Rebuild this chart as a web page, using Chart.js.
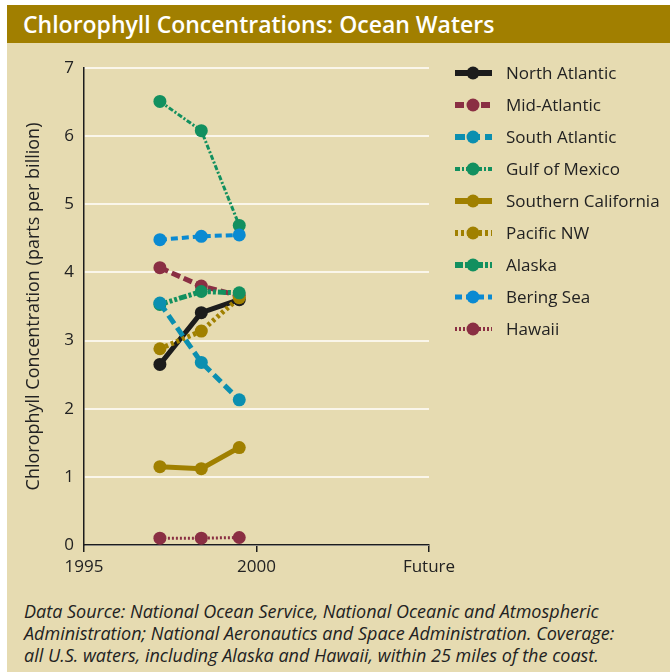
<!DOCTYPE html>
<html lang="en">
<head>
<meta charset="utf-8">
<title>Chlorophyll Concentrations: Ocean Waters</title>
<script src="https://cdn.jsdelivr.net/npm/chart.js@4/dist/chart.umd.min.js"></script>
<style>
  body { margin: 0; width: 670px; height: 672px; overflow: hidden; background: #fff; font-family: "Open Sans", sans-serif; }
  #panel { position: absolute; left: 7px; top: 5px; width: 663px; height: 667px; background: #e6dbb1; }
  #title { position: absolute; left: 7px; top: 5px; width: 663px; height: 38px; background: #a17f00; color: #fff;
           font-weight: 600; font-size: 23px; line-height: 38px; padding-left: 16px; box-sizing: border-box; }
  #wrap { position: absolute; left: 0; top: 44px; width: 670px; height: 550px; }
  #note { position: absolute; left: 24px; top: 600px; font-style: italic; font-size: 18px; line-height: 22px; color: #222; }
</style>
</head>
<body>
<div id="panel"></div>
<div id="title">Chlorophyll Concentrations: Ocean Waters</div>
<div id="wrap"><canvas id="chart" width="670" height="550"></canvas></div>
<div id="note">Data Source: National Ocean Service, National Oceanic and Atmospheric<br>Administration; National Aeronautics and Space Administration. Coverage:<br>all U.S. waters, including Alaska and Hawaii, within 25 miles of the coast.</div>
<script>
"use strict";

// Mätår (x-positioner) och värden
const years = [1997.2, 1998.4, 1999.5];
const xTicks = [1995, 2000, 2005];
const xTickLabels = ["1995", "2000", "Future"];

const regionNames = [
  "North Atlantic", "Mid-Atlantic", "South Atlantic", "Gulf of Mexico",
  "Southern California", "Pacific NW", "Alaska", "Bering Sea", "Hawaii"
];

const northAtlantic = [2.65, 3.41, 3.6];
const midAtlantic = [4.07, 3.8, 3.66];
const southAtlantic = [3.55, 2.68, 2.13];
const gulfOfMexico = [6.51, 6.08, 4.69];
const southernCalifornia = [1.15, 1.12, 1.43];
const pacificNW = [2.88, 3.14, 3.63];
const alaska = [3.53, 3.72, 3.7];
const beringSea = [4.48, 4.53, 4.55];
const hawaii = [0.1, 0.1, 0.11];

const regionValues = [
  northAtlantic, midAtlantic, southAtlantic, gulfOfMexico,
  southernCalifornia, pacificNW, alaska, beringSea, hawaii
];

// Stil för varje serie: färg, linjebredd, streckmönster
const regionStyles = [
  { color: "#1c1c1c", width: 5, dash: [] },
  { color: "#8a2f43", width: 5, dash: [9, 4] },
  { color: "#0b8fb0", width: 5, dash: [10, 5] },
  { color: "#12905f", width: 3, dash: [5, 2, 2, 2] },
  { color: "#a08000", width: 5, dash: [] },
  { color: "#a08000", width: 5, dash: [3, 3] },
  { color: "#12905f", width: 5, dash: [8, 2, 3, 2, 3, 2] },
  { color: "#0a8ad2", width: 4, dash: [7, 4] },
  { color: "#8a2f43", width: 3, dash: [2, 2] }
];

document.addEventListener("DOMContentLoaded", createLineChart);

/**
 * Ritar förklaringen till höger om diagrammet: linjestump, punkt och namn.
 */
const sideLegend = {
  id: "sideLegend",
  afterDraw(chart) {
    const ctx = chart.ctx;
    chart.data.datasets.forEach((ds, i) => {
      const y = 29 + i * 32;
      ctx.save();
      ctx.strokeStyle = ds.borderColor;
      ctx.lineWidth = ds.borderWidth + 1;
      ctx.setLineDash(ds.borderDash);
      ctx.beginPath();
      ctx.moveTo(455, y);
      ctx.lineTo(492, y);
      ctx.stroke();
      ctx.setLineDash([]);
      ctx.fillStyle = ds.pointBackgroundColor;
      ctx.beginPath();
      ctx.arc(473, y, 6.5, 0, Math.PI * 2);
      ctx.fill();
      ctx.fillStyle = "#222";
      ctx.font = "17px 'Open Sans'";
      ctx.textBaseline = "middle";
      ctx.fillText(ds.label, 506, y + 1);
      ctx.restore();
    });
  }
};

function createLineChart() {
  const canvas = document.querySelector("#chart");

  const datasets = regionNames.map((name, i) => {
    const style = regionStyles[i];
    return {
      label: name,
      data: years.map((year, j) => ({ x: year, y: regionValues[i][j] })),
      borderColor: style.color,
      backgroundColor: style.color,
      pointBackgroundColor: style.color,
      pointBorderWidth: 0,
      pointRadius: 6.5,
      borderWidth: style.width,
      borderDash: style.dash,
      order: name === "South Atlantic" ? 1.5 : 8 - i
    };
  });

  new Chart(canvas, {
    type: "line",
    data: { datasets: datasets },
    options: {
      responsive: false,
      animation: false,
      layout: { padding: { left: 0, right: 241, top: 24, bottom: 0 } },
      plugins: { legend: { display: false }, tooltip: { enabled: false } },
      scales: {
        x: {
          type: "linear",
          min: xTicks[0],
          max: xTicks[xTicks.length - 1],
          afterBuildTicks: (scale) => { scale.ticks = xTicks.map((v) => ({ value: v })); },
          ticks: {
            callback: (value) => xTickLabels[xTicks.indexOf(value)],
            font: { family: "Open Sans", size: 17 },
            color: "#222",
            padding: 5,
            maxRotation: 0
          },
          grid: { drawOnChartArea: false, tickLength: 7, color: "#1c1c1c", lineWidth: 1.5 },
          border: { color: "#1c1c1c", width: 1.5 },
          afterFit: (scale) => { scale.height = 49; }
        },
        y: {
          min: 0,
          max: 7,
          ticks: {
            stepSize: 1,
            font: { family: "Open Sans", size: 17 },
            color: "#222",
            padding: 10
          },
          grid: { color: "#faf6ea", lineWidth: 2, drawTicks: false },
          border: { color: "#1c1c1c", width: 1.5 },
          title: {
            display: true,
            text: "Chlorophyll Concentration (parts per billion)",
            font: { family: "Open Sans", size: 18 },
            color: "#222",
            padding: { top: 23, bottom: 0 }
          },
          afterFit: (scale) => { scale.width = 84; }
        }
      }
    },
    plugins: [sideLegend]
  });
}
</script>
</body>
</html>
